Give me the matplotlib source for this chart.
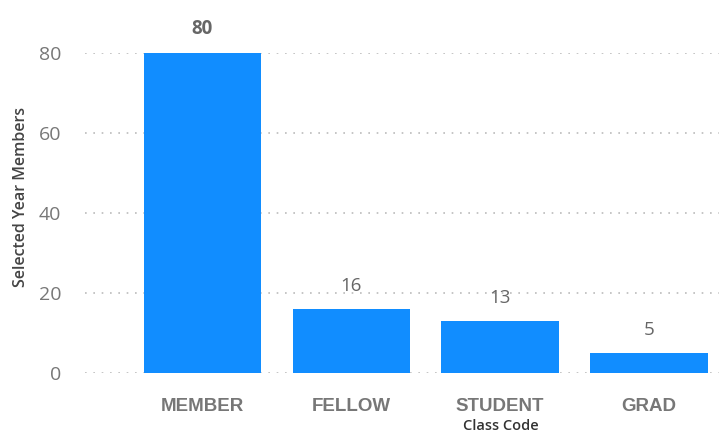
"""Selected year members by class code, bar chart."""

import matplotlib.pyplot as plt

categories = ["MEMBER", "FELLOW", "STUDENT", "GRAD"]
members = [80, 16, 13, 5]
y_ticks = [0, 20, 40, 60, 80]

BAR_COLOR = "#118DFF"
TEXT_GRAY = "#777777"

plt.rcParams["font.family"] = ["Open Sans", "DejaVu Sans"]

fig = plt.figure(figsize=(7.19, 4.32), dpi=100)
ax = fig.add_axes([0.118, 0.1366, 0.882, 0.7407])

x = range(len(categories))
bars = ax.bar(x, members, width=0.79, color=BAR_COLOR, zorder=2)

for rect, value in zip(bars, members):
    ax.annotate(
        f"{value}",
        (rect.get_x() + rect.get_width() / 2, rect.get_height()),
        xytext=(0, 10),
        textcoords="offset points",
        ha="center",
        va="bottom",
        fontsize=13.5,
        fontweight="bold" if value == 80 else "normal",
        color="#666666",
    )

ax.set_xlim(-0.79, 3.47)
ax.set_ylim(0, 80)
ax.set_yticks(y_ticks)
ax.set_xticks(list(x))
ax.set_xticklabels(categories, fontsize=13.5, fontweight="bold", color=TEXT_GRAY,
                   family="Liberation Sans")
ax.tick_params(axis="x", length=0, pad=18)
ax.tick_params(axis="y", length=0, pad=17, labelsize=14, labelcolor=TEXT_GRAY)

ax.grid(axis="y", linestyle=(0, (1, 4)), color="#BBBBBB", linewidth=1.2, zorder=0)
for side in ax.spines.values():
    side.set_visible(False)

ax.set_ylabel("Selected Year Members", fontsize=11.5, fontweight="semibold", color="#444444")
ax.yaxis.set_label_coords(-0.088, 0.55)
ax.set_xlabel("Class Code", fontsize=10.5, fontweight="semibold", color="#333333")
ax.xaxis.set_label_coords((501 - 85) / 634, -0.143)

fig.savefig("out.png", dpi=100)
plt.close(fig)
